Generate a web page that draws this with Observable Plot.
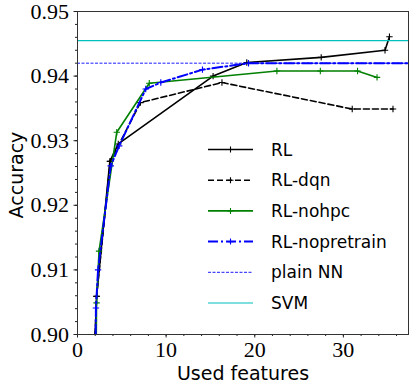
<!DOCTYPE html>
<html>
<head>
<meta charset="utf-8">
<script src="https://cdn.jsdelivr.net/npm/d3@7"></script>
<script src="https://cdn.jsdelivr.net/npm/@observablehq/plot@0.6"></script>
<style>
  html, body { margin: 0; padding: 0; background: #fff; }
  #chart svg { display: block; background: #fff; }
</style>
</head>
<body>
<div id="chart"></div>
<script>
// ---- data ----
const rlX = [2.0, 2.15, 3.65, 4.6, 15.3, 19.1, 27.5, 34.7, 35.2];
const rlY = [0.900, 0.9059, 0.9268, 0.9295, 0.9400, 0.9421, 0.9429, 0.9440, 0.9461];

const dqnX = [2.0, 2.15, 3.7, 7.1, 16.3, 31.0, 35.6];
const dqnY = [0.900, 0.9059, 0.9268, 0.9359, 0.9390, 0.9349, 0.9349];

const nohpcX = [2.12, 2.15, 2.43, 4.43, 8.1, 22.5, 27.4, 31.6, 33.8];
const nohpcY = [0.900, 0.9049, 0.9129, 0.9313, 0.9389, 0.9408, 0.9408, 0.9408, 0.9398];

const nopreX = [2.05, 2.08, 2.32, 3.75, 4.7, 7.7, 9.4, 14.1, 19.3, 38.0];
const nopreY = [0.900, 0.9041, 0.9100, 0.9261, 0.9292, 0.9380, 0.9390, 0.9410, 0.9420, 0.9420];

const plainNN = 0.9420;
const svmAcc = 0.9455;

const seriesNames = ["RL", "RL-dqn", "RL-nohpc", "RL-nopretrain", "plain NN", "SVM"];
const xTicks = [0, 10, 20, 30];
const yTicks = [0.90, 0.91, 0.92, 0.93, 0.94, 0.95];
const xMinor = d3.range(0, 37, 2);
const yMinor = d3.range(0.900, 0.9501, 0.002);

// ---- styles ----
const styles = [
  {color: "#000000", width: 1.6, dash: null, marker: true},
  {color: "#000000", width: 1.6, dash: "6,3", marker: true},
  {color: "#008000", width: 1.6, dash: null, marker: true},
  {color: "#0000ff", width: 2, dash: "10,3,2,3", marker: true},
  {color: "#0000ff", width: 0.9, dash: "3,1.5", marker: false},
  {color: "#00bfbf", width: 1.2, dash: null, marker: false}
];

const toRows = (xs, ys) => xs.map((x, i) => ({x, y: ys[i]}));
const series = [toRows(rlX, rlY), toRows(dqnX, dqnY), toRows(nohpcX, nohpcY), toRows(nopreX, nopreY)];

const plusSymbol = {
  draw(context, size) {
    const r = Math.sqrt(size / Math.PI);
    context.moveTo(-r, 0); context.lineTo(r, 0);
    context.moveTo(0, -r); context.lineTo(0, r);
  }
};

const marks = [];
series.forEach((rows, i) => {
  const st = styles[i];
  marks.push(Plot.line(rows, {x: "x", y: "y", stroke: st.color, strokeWidth: st.width,
    strokeDasharray: st.dash, clip: true}));
  marks.push(Plot.dot(rows, {x: "x", y: "y", symbol: plusSymbol, r: 3.2, stroke: st.color,
    strokeWidth: 1.1, fill: "none", clip: true}));
});
marks.push(Plot.ruleY([plainNN], {stroke: styles[4].color, strokeWidth: styles[4].width, strokeDasharray: styles[4].dash}));
marks.push(Plot.ruleY([svmAcc], {stroke: styles[5].color, strokeWidth: styles[5].width}));

marks.push(Plot.axisX(xMinor, {tickSize: 2, tickFormat: () => "", label: null, stroke: "#222"}));
marks.push(Plot.axisY(yMinor, {tickSize: 2, tickFormat: () => "", label: null, stroke: "#222"}));
marks.push(Plot.axisX(xTicks, {tickSize: 3.5, tickPadding: 3, tickFormat: d => String(d), label: null, stroke: "#222"}));
marks.push(Plot.axisY(yTicks, {tickSize: 3.5, tickPadding: 5, tickFormat: d3.format(".2f"), label: null, stroke: "#222"}));
marks.push(Plot.frame({stroke: "#333", strokeWidth: 1}));

const svg = Plot.plot({
  width: 415,
  height: 386,
  marginLeft: 77,
  marginRight: 7,
  marginTop: 11,
  marginBottom: 52,
  x: {domain: [0, 37.35]},
  y: {domain: [0.90, 0.95]},
  style: {fontFamily: "'Liberation Serif', serif", fontSize: "22px", color: "#000", background: "#fff"},
  marks
});

// axis labels
const s = d3.select(svg);
s.append("text")
  .attr("transform", "translate(23,175) rotate(-90)")
  .attr("text-anchor", "middle")
  .attr("font-family", "'DejaVu Sans', sans-serif")
  .attr("font-size", 19)
  .attr("fill", "#000")
  .text("Accuracy");
s.append("text")
  .attr("x", 243).attr("y", 380)
  .attr("text-anchor", "middle")
  .attr("font-family", "'DejaVu Sans', sans-serif")
  .attr("font-size", 19)
  .attr("fill", "#000")
  .text("Used features");

// legend
const lg = s.append("g").attr("font-family", "'DejaVu Sans', sans-serif").attr("font-size", 17)
  .attr("text-anchor", "start");
seriesNames.forEach((name, i) => {
  const st = styles[i];
  const y = 149.5 + i * 30.7;
  lg.append("line").attr("x1", 208).attr("x2", 253).attr("y1", y).attr("y2", y)
    .attr("stroke", st.color).attr("stroke-width", st.width)
    .attr("stroke-dasharray", st.dash);
  if (st.marker) {
    lg.append("path").attr("d", "M227.5," + y + "h6M230.5," + (y - 3) + "v6")
      .attr("stroke", st.color).attr("stroke-width", 1.1);
  }
  lg.append("text").attr("x", 271).attr("y", y).attr("dy", "0.36em")
    .attr("text-anchor", "start").attr("fill", "#000").text(name);
});

document.getElementById("chart").appendChild(svg);
</script>
</body>
</html>
